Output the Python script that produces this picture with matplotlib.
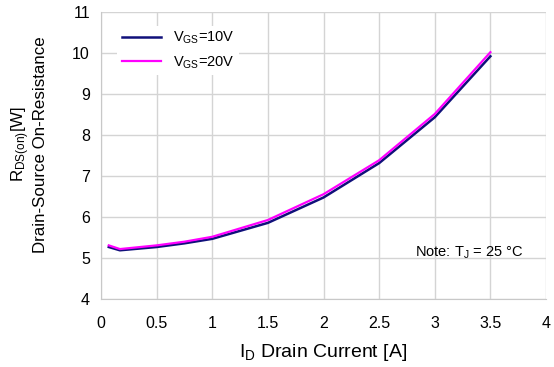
import matplotlib
matplotlib.use("Agg")
import matplotlib.pyplot as plt

plt.rcParams['font.family'] = ['Liberation Sans', 'DejaVu Sans']
plt.rcParams['mathtext.fontset'] = 'custom'
plt.rcParams['mathtext.rm'] = 'Liberation Sans'
plt.rcParams['mathtext.it'] = 'Liberation Sans'

current = [0.07, 0.17, 0.5, 0.75, 1.0, 1.5, 2.0, 2.5, 3.0, 3.5]
rds_10v = [5.27, 5.19, 5.27, 5.36, 5.47, 5.86, 6.48, 7.32, 8.44, 9.93]
rds_20v = [5.31, 5.22, 5.31, 5.40, 5.52, 5.93, 6.56, 7.39, 8.52, 10.03]
xticks = [0, 0.5, 1, 1.5, 2, 2.5, 3, 3.5, 4]
xticklabels = ['0', '0.5', '1', '1.5', '2', '2.5', '3', '3.5', '4']
yticks = [4, 5, 6, 7, 8, 9, 10, 11]

fig = plt.figure(figsize=(5.54, 3.67), dpi=100)
ax = fig.add_axes([0.1823, 0.1853, 0.8033, 0.7807])

ax.plot(current, rds_10v, color='#10107a', lw=1.8, label=r'V$_{\mathregular{GS}}$=10V', zorder=3)
ax.plot(current, rds_20v, color='#ff00ff', lw=1.6, label=r'V$_{\mathregular{GS}}$=20V', zorder=4)

ax.set_xlim(0, 4)
ax.set_ylim(4, 11)
ax.set_xticks(xticks)
ax.set_xticklabels(xticklabels)
ax.set_yticks(yticks)
ax.grid(True, color='#d4d4d4', lw=1)
ax.set_axisbelow(True)
for s in ['top', 'right']:
    ax.spines[s].set_visible(False)
for s in ['left', 'bottom']:
    ax.spines[s].set_color('#c8c8c8')
ax.tick_params(length=0, labelsize=11.5, colors='black')
ax.tick_params(axis='x', pad=12)
ax.tick_params(axis='y', pad=8)

ax.set_xlabel(r'I$_{\mathregular{D}}$ Drain Current [A]', fontsize=14, labelpad=8)
ax.set_ylabel('R$_{\\mathregular{DS(on)}}$[W]\nDrain-Source On-Resistance', fontsize=12.2,
              linespacing=1.15)
ax.yaxis.set_label_coords(-0.118, 0.54)

leg = ax.legend(loc='upper left', bbox_to_anchor=(0.02, 0.98), frameon=True, fontsize=10.5,
                handlelength=2.7, handletextpad=0.8, labelspacing=0.55, borderpad=0.3)
leg.get_frame().set_facecolor('white')
leg.get_frame().set_edgecolor('none')
leg.get_frame().set_alpha(1)

ax.text(2.82, 5.12, r'Note: T$_{\mathregular{J}}$ = 25 °C', fontsize=10.5, va='center', ha='left')

fig.savefig('out.png', dpi=100)
